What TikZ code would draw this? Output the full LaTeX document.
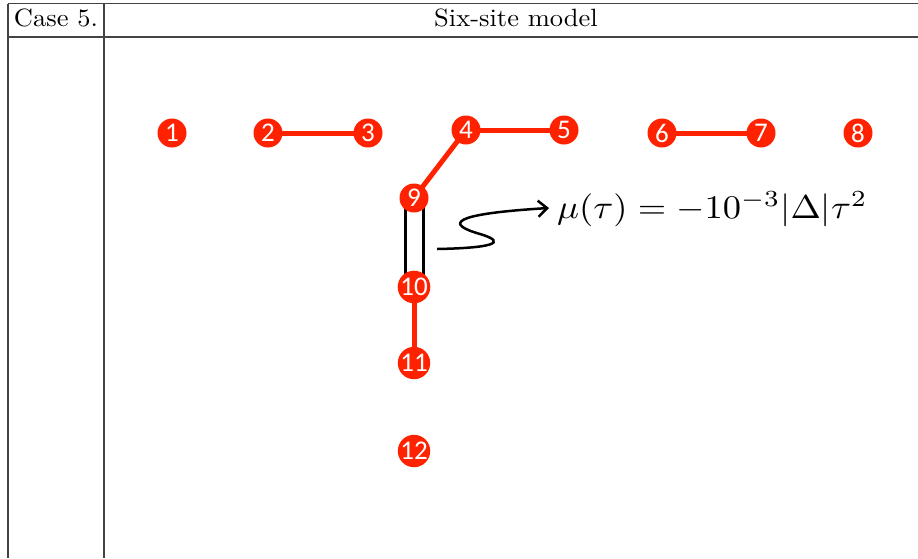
\documentclass[tikz,border=0pt]{standalone}
\usepackage{fontspec}
\newfontfamily\numfont{Carlito}
\usetikzlibrary{arrows.meta,backgrounds}
\definecolor{sitered}{HTML}{FF2200}
\definecolor{rulegray}{HTML}{444444}
\tikzset{
  site/.style={circle,fill=sitered,draw=none,minimum size=29,inner sep=0pt,text=white,font=\numfont\fontsize{27}{27}\selectfont},
  bond/.style={line width=5,draw=sitered},
  rail/.style={line width=3,draw=black},
  rulel/.style={line width=1.3,draw=rulegray},
  hdr/.style={inner sep=0pt,anchor=base}
}
\begin{document}
\begin{tikzpicture}[x=1pt,y=-1pt]
\useasboundingbox (0,0) rectangle (918,558);
% table rules
\coordinate (tl) at (8,3.5);
\coordinate (tr) at (918,3.5);
\coordinate (hl) at (8,37);
\coordinate (hr) at (918,37);
\coordinate (bl) at (8,558);
\coordinate (dt) at (104,3.5);
\coordinate (db) at (104,558);
\draw[rulel] (tl) -- (tr);
\draw[rulel] (hl) -- (hr);
\draw[rulel] (tl) -- (bl);
\draw[rulel] (dt) -- (db);
\node[hdr] (case) at (56,26) {\scalebox{2.65}[2.5]{Case 5.}};
\node[hdr] (title) at (516,26) {\scalebox{2.65}[2.5]{Six-site model}};
% sites
\node[site] (n1) at (172,133) {1};
\node[site] (n2) at (268,133) {2};
\node[site] (n3) at (368,133) {3};
\node[site] (n4) at (466,130) {4};
\node[site] (n5) at (564,130) {5};
\node[site] (n6) at (662,133) {6};
\node[site] (n7) at (761,133) {7};
\node[site] (n8) at (858,133) {8};
\node[site] (n9) at (414,198) {9};
\node[site] (n10) at (414,287) {10};
\node[site] (n11) at (414,363) {11};
\node[site] (n12) at (414,451) {12};
\begin{scope}[on background layer]
\draw[bond] (n2.center) -- (n3.center);
\draw[bond] (n4.center) -- (n5.center);
\draw[bond] (n6.center) -- (n7.center);
\draw[bond] (n9.center) -- (n4.center);
\draw[bond] (n10.center) -- (n11.center);
\draw[rail] ([xshift=-9]n9.center) -- ([xshift=-9]n10.center);
\draw[rail] ([xshift=9]n9.center) -- ([xshift=9]n10.center);
\end{scope}
% label and squiggle arrow
\node[anchor=base west,inner sep=0pt] (mu) at (557,218) {\scalebox{3.65}[3.3]{$\mu(\tau)=-10^{-3}|\Delta|\tau^2$}};
\coordinate (sq) at (437,249);
\coordinate (tip) at (549,208);
\draw[line width=2.5,-{Straight Barb[length=9,width=16,line width=2.5]}] (sq) .. controls (490,248) and (510,243) .. (480,234) .. controls (445,224) and (450,214) .. (tip);
\end{tikzpicture}
\end{document}
